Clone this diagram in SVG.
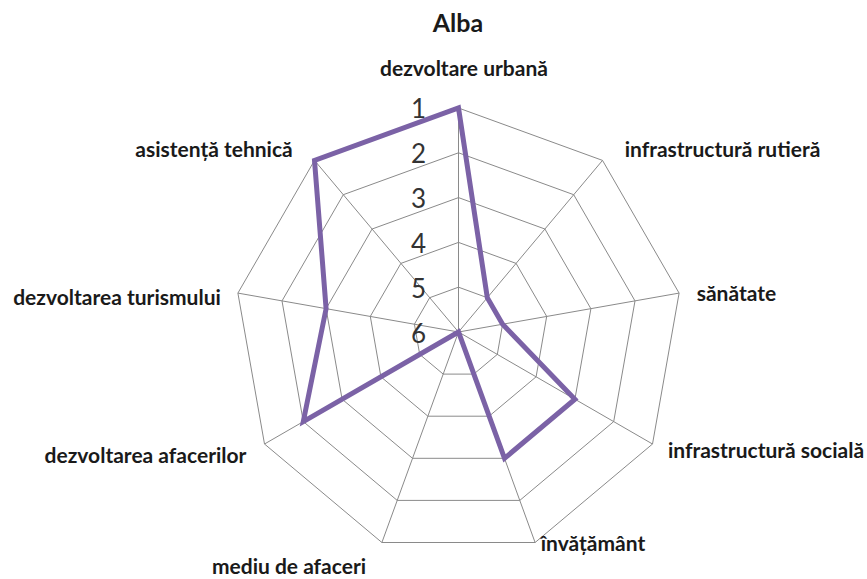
<svg xmlns="http://www.w3.org/2000/svg" width="867" height="579" viewBox="0 0 867 579">
  <style>
    .grid { fill: none; stroke: #8a8a8a; stroke-width: 1; }
    .spoke { stroke: #8a8a8a; stroke-width: 1; }
    .series { fill: none; stroke: #7b62a6; stroke-width: 5; stroke-linejoin: miter; }
    .cat { font-family: Lato, "Liberation Sans", sans-serif; font-weight: bold; font-size: 21px; fill: #1a1a1a; text-anchor: middle; }
    .tick { font-family: Lato, "Liberation Sans", sans-serif; font-size: 26px; fill: #333333; text-anchor: end; }
    .title { font-family: Lato, "Liberation Sans", sans-serif; font-weight: bold; font-size: 25px; fill: #1a1a1a; text-anchor: middle; }
  </style>
  <rect width="867" height="579" fill="#ffffff"/>

  <text class="title" x="458" y="32">Alba</text>

  <!-- radar grid: five nonagon rings and nine spokes -->
  <g id="grid">
    <polygon class="grid" points="458.5,108 602.5,160.4 679.1,293.1 652.5,444 535.1,542.5 381.9,542.5 264.5,444 237.9,293.1 314.5,160.4"/>
    <polygon class="grid" points="458.5,152.8 573.7,194.7 635,300.9 613.7,421.6 519.8,500.4 397.2,500.4 303.3,421.6 282,300.9 343.3,194.7"/>
    <polygon class="grid" points="458.5,197.6 544.9,229 590.9,308.7 574.9,399.2 504.5,458.3 412.5,458.3 342.1,399.2 326.1,308.7 372.1,229"/>
    <polygon class="grid" points="458.5,242.4 516.1,263.4 546.7,316.4 536.1,376.8 489.1,416.2 427.9,416.2 380.9,376.8 370.3,316.4 400.9,263.4"/>
    <polygon class="grid" points="458.5,287.2 487.3,297.7 502.6,324.2 497.3,354.4 473.8,374.1 443.2,374.1 419.7,354.4 414.4,324.2 429.7,297.7"/>
    <line class="spoke" x1="458.5" y1="332" x2="458.5" y2="108"/>
    <line class="spoke" x1="458.5" y1="332" x2="602.5" y2="160.4"/>
    <line class="spoke" x1="458.5" y1="332" x2="679.1" y2="293.1"/>
    <line class="spoke" x1="458.5" y1="332" x2="652.5" y2="444"/>
    <line class="spoke" x1="458.5" y1="332" x2="535.1" y2="542.5"/>
    <line class="spoke" x1="458.5" y1="332" x2="381.9" y2="542.5"/>
    <line class="spoke" x1="458.5" y1="332" x2="264.5" y2="444"/>
    <line class="spoke" x1="458.5" y1="332" x2="237.9" y2="293.1"/>
    <line class="spoke" x1="458.5" y1="332" x2="314.5" y2="160.4"/>
  </g>

  <!-- data series -->
  <g id="connectors">
    <polygon class="series" points="458.5,108 487.3,297.7 502.6,324.2 574.9,399.2 504.5,458.3 458.5,332 303.3,421.6 326.1,308.7 314.5,160.4"/>
  </g>

  <!-- scale values -->
  <g id="scale">
    <text class="tick" x="426" y="118">1</text>
    <text class="tick" x="426" y="163">2</text>
    <text class="tick" x="426" y="208">3</text>
    <text class="tick" x="426" y="253">4</text>
    <text class="tick" x="426" y="298">5</text>
    <text class="tick" x="426" y="343">6</text>
  </g>

  <!-- axis labels -->
  <g id="axis-urbana"><text class="cat" x="464" y="76">dezvoltare urbană</text></g>
  <g id="axis-rutiera"><text class="cat" x="722.5" y="157">infrastructură rutieră</text></g>
  <g id="axis-sanatate"><text class="cat" x="736.5" y="301">sănătate</text></g>
  <g id="axis-sociala"><text class="cat" x="766" y="458">infrastructură socială</text></g>
  <g id="axis-invatamant"><text class="cat" x="593" y="551">învățământ</text></g>
  <g id="axis-mediu"><text class="cat" x="289" y="574">mediu de afaceri</text></g>
  <g id="axis-afacerilor"><text class="cat" x="145.5" y="463">dezvoltarea afacerilor</text></g>
  <g id="axis-turism"><text class="cat" x="117" y="305">dezvoltarea turismului</text></g>
  <g id="axis-asistenta"><text class="cat" x="214" y="157">asistență tehnică</text></g>
</svg>
